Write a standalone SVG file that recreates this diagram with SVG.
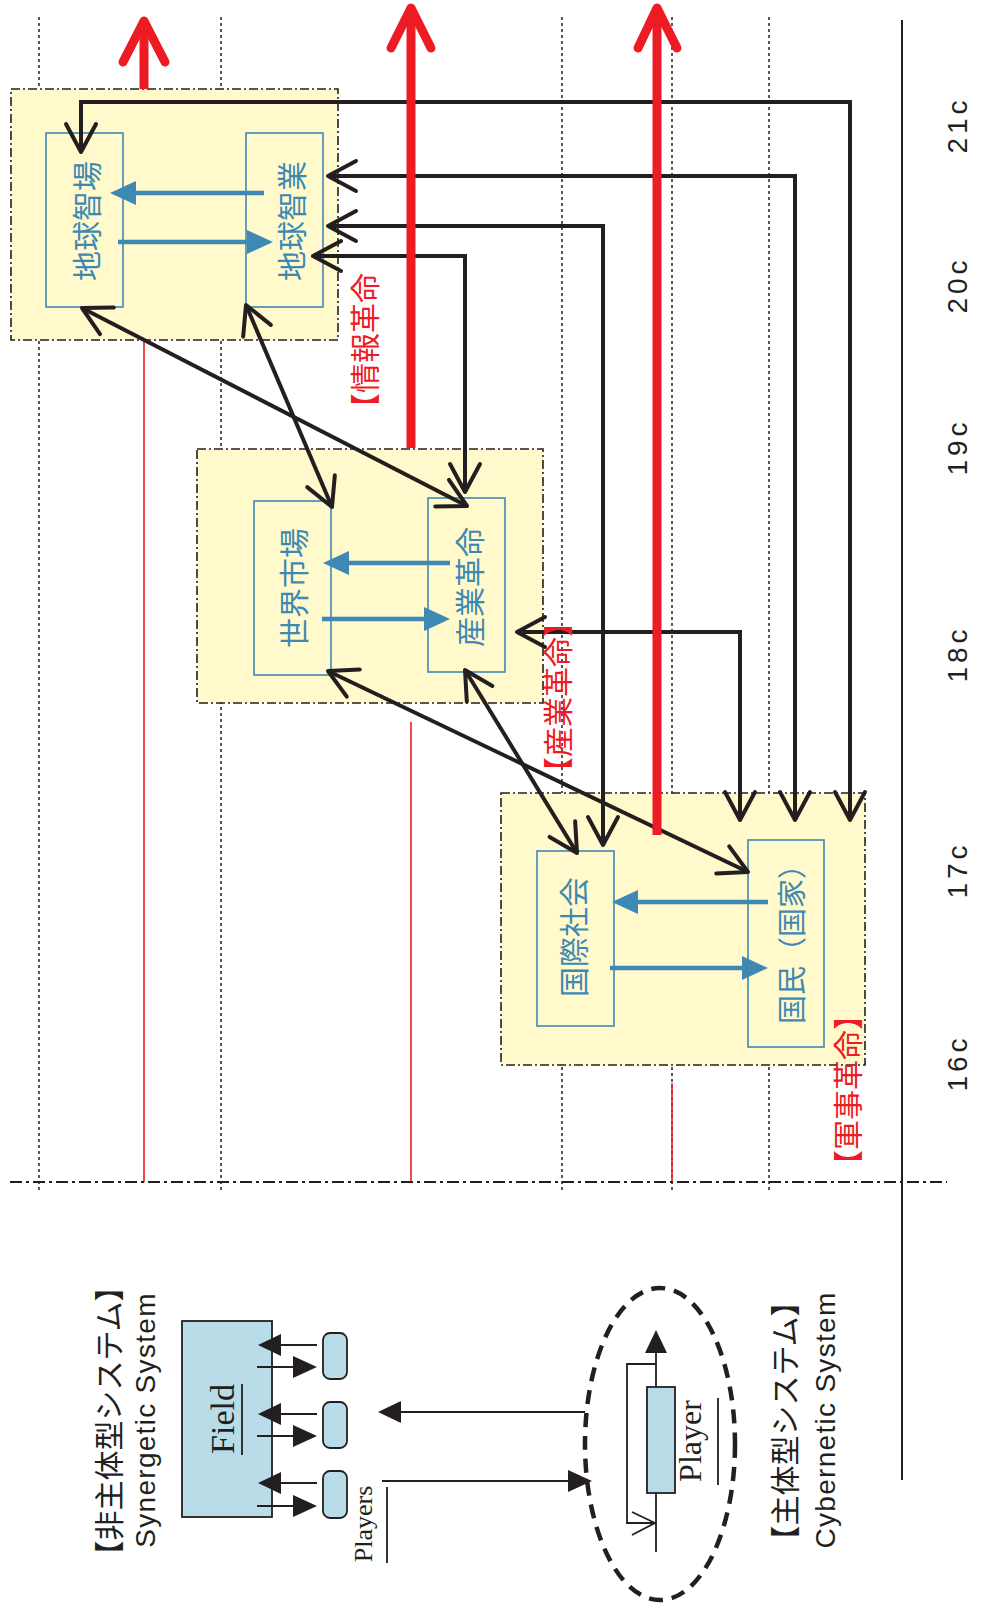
<svg xmlns="http://www.w3.org/2000/svg" width="987" height="1606" viewBox="0 0 987 1606">
<style>
.grid{stroke:#231f20;stroke-width:1.5;stroke-dasharray:3 3;fill:none}
.rt{stroke:#ed1c24;stroke-width:1.6;fill:none}
.yb{fill:#fff9cc;stroke:#231f20;stroke-width:1.6;stroke-dasharray:9 3 2 3}
.bb{fill:none;stroke:#3e89b4;stroke-width:1.6}
.bt{font-family:"Noto Sans CJK JP",sans-serif;font-size:30px;fill:#3e89b4}
.ba{stroke:#3e89b4;stroke-width:4.5;fill:none}
.bh{fill:#3e89b4}
.con{stroke:#231f20;stroke-width:4;fill:none}
.rs{stroke:#ed1c24;stroke-width:9;fill:none}
.rc{stroke:#ed1c24;stroke-width:9;fill:none;stroke-linecap:round;stroke-linejoin:round}
.rl{font-family:"Noto Sans CJK JP",sans-serif;font-size:30px;fill:#ed1c24}
.tl{font-family:"Liberation Sans",Arial,sans-serif;font-size:28px;fill:#231f20;letter-spacing:4px}
.thin{stroke:#231f20;stroke-width:1.8;fill:none}
.ah{fill:#231f20}
.lb{fill:#b8dde8;stroke:#231f20;stroke-width:1.8}
.jp{font-family:"Noto Sans CJK JP",sans-serif;font-size:30px;fill:#231f20}
.en{font-family:"Liberation Sans",Arial,sans-serif;font-size:28px;fill:#231f20;letter-spacing:1.3px}
.sf{font-family:"Liberation Serif","Times New Roman",serif;fill:#231f20}
</style>
<defs>
<marker id="ch" markerUnits="userSpaceOnUse" viewBox="-34 -20 40 40" markerWidth="40" markerHeight="40" refX="0" refY="0" orient="auto-start-reverse">
<path d="M-28,-15 L0,0 L-28,15" fill="none" stroke="#231f20" stroke-width="4" stroke-linecap="round" stroke-linejoin="round"/>
</marker>
</defs>

<g id="timeline">
<line class="grid" x1="39" y1="17" x2="39" y2="1193"/>
<line class="grid" x1="221" y1="17" x2="221" y2="1193"/>
<line class="grid" x1="562" y1="17" x2="562" y2="1193"/>
<line class="grid" x1="672" y1="17" x2="672" y2="1193"/>
<line class="grid" x1="769" y1="17" x2="769" y2="1193"/>
<line class="rt" x1="144" y1="324" x2="144" y2="1182"/>
<line class="rt" x1="411" y1="722" x2="411" y2="1182"/>
<line class="rt" x1="672" y1="1083" x2="672" y2="1182"/>
<line x1="10" y1="1182" x2="947" y2="1182" stroke="#231f20" stroke-width="2" stroke-dasharray="12 4 3 4"/>
<line x1="902" y1="20" x2="902" y2="1480" stroke="#231f20" stroke-width="2"/>
<g class="tl" text-anchor="middle" dominant-baseline="central">
<text transform="translate(957,125) rotate(-90)">21c</text>
<text transform="translate(957,285) rotate(-90)">20c</text>
<text transform="translate(957,447) rotate(-90)">19c</text>
<text transform="translate(957,654) rotate(-90)">18c</text>
<text transform="translate(957,870) rotate(-90)">17c</text>
<text transform="translate(957,1063) rotate(-90)">16c</text>
</g>
</g>

<g id="era-21c">
<rect class="yb" x="11" y="89" width="327" height="251"/>
<g id="node-chikyu-chijo">
<rect class="bb" x="46" y="133" width="77" height="174"/>
<text class="bt" text-anchor="middle" dominant-baseline="central" transform="translate(85,221) rotate(-90)">地球智場</text>
</g>
<g id="node-chikyu-chigyo">
<rect class="bb" x="246" y="133" width="77" height="174"/>
<text class="bt" text-anchor="middle" dominant-baseline="central" transform="translate(290,221) rotate(-90)">地球智業</text>
</g>
<line class="ba" x1="264" y1="193" x2="134" y2="193"/>
<polygon class="bh" points="110,193 136,181 136,205"/>
<line class="ba" x1="118" y1="242" x2="250" y2="242"/>
<polygon class="bh" points="273,242 247,230 247,254"/>
</g>

<g id="era-19c">
<rect class="yb" x="197" y="449" width="346" height="254"/>
<g id="node-sekai-shijo">
<rect class="bb" x="254" y="501" width="77" height="174"/>
<text class="bt" text-anchor="middle" dominant-baseline="central" transform="translate(292,588) rotate(-90)">世界市場</text>
</g>
<g id="node-sangyo-kakumei">
<rect class="bb" x="428" y="498" width="77" height="174"/>
<text class="bt" text-anchor="middle" dominant-baseline="central" transform="translate(468,587) rotate(-90)">産業革命</text>
</g>
<line class="ba" x1="450" y1="563" x2="347" y2="563"/>
<polygon class="bh" points="323,563 349,551 349,575"/>
<line class="ba" x1="322" y1="619" x2="426" y2="619"/>
<polygon class="bh" points="450,619 424,607 424,631"/>
</g>

<g id="era-17c">
<rect class="yb" x="501" y="793" width="364" height="272"/>
<g id="node-kokusai-shakai">
<rect class="bb" x="537" y="851" width="77" height="175"/>
<text class="bt" text-anchor="middle" dominant-baseline="central" transform="translate(572,937) rotate(-90)">国際社会</text>
</g>
<g id="node-kokumin">
<rect class="bb" x="748" y="840" width="76" height="207"/>
<text class="bt" style="font-size:29px" text-anchor="middle" dominant-baseline="central" transform="translate(790,937) rotate(-90)">国民（国家）</text>
</g>
<line class="ba" x1="768" y1="902" x2="636" y2="902"/>
<polygon class="bh" points="612,902 638,890 638,914"/>
<line class="ba" x1="610" y1="968" x2="744" y2="968"/>
<polygon class="bh" points="768,968 742,956 742,980"/>
</g>

<g id="connectors">
<path class="con" marker-start="url(#ch)" marker-end="url(#ch)" d="M81,152 V102 H850 V820"/>
<path class="con" marker-start="url(#ch)" marker-end="url(#ch)" d="M328,176 H795 V820"/>
<path class="con" marker-start="url(#ch)" marker-end="url(#ch)" d="M328,226 H603 V845"/>
<path class="con" marker-start="url(#ch)" marker-end="url(#ch)" d="M313,256 H465 V492"/>
<path class="con" marker-start="url(#ch)" marker-end="url(#ch)" d="M82,308 L467,506"/>
<path class="con" marker-start="url(#ch)" marker-end="url(#ch)" d="M246,305 L332,507"/>
<path class="con" marker-start="url(#ch)" marker-end="url(#ch)" d="M465,670 L577,853"/>
<path class="con" marker-start="url(#ch)" marker-end="url(#ch)" d="M328,671 L748,872"/>
<path class="con" marker-start="url(#ch)" marker-end="url(#ch)" d="M517,632 H740 V820"/>
</g>

<g id="revolutions">
<line class="rs" x1="144" y1="89" x2="144" y2="24"/>
<path class="rc" d="M123,62 L144,21 L165,62"/>
<line class="rs" x1="411" y1="448" x2="411" y2="12"/>
<path class="rc" d="M391,48 L411,8 L431,48"/>
<line class="rs" x1="657" y1="835" x2="657" y2="12"/>
<path class="rc" d="M638,48 L657,8 L677,48"/>
<text class="rl" dominant-baseline="central" transform="translate(363,423) rotate(-90)">【情報革命</text>
<text class="rl" text-anchor="middle" dominant-baseline="central" transform="translate(556,697) rotate(-90)">【産業革命】</text>
<text class="rl" text-anchor="middle" dominant-baseline="central" transform="translate(846,1090) rotate(-90)">【軍事革命】</text>
</g>

<g id="legend-synergetic">
<text class="jp" text-anchor="middle" dominant-baseline="central" transform="translate(107,1421) rotate(-90)">【非主体型システム】</text>
<text class="en" text-anchor="middle" dominant-baseline="central" transform="translate(145,1420) rotate(-90)">Synergetic System</text>
<g id="node-field">
<rect class="lb" x="182" y="1321" width="90" height="196"/>
<text class="sf" style="font-size:34px" text-anchor="middle" transform="translate(234,1419) rotate(-90)">Field</text>
<line class="thin" x1="242" y1="1384" x2="242" y2="1455"/>
</g>
<g id="node-players">
<rect class="lb" x="323" y="1333" width="24" height="46" rx="7"/>
<rect class="lb" x="323" y="1402" width="24" height="46" rx="7"/>
<rect class="lb" x="323" y="1471" width="24" height="47" rx="7"/>
<text class="sf" style="font-size:26px" text-anchor="middle" transform="translate(372,1524) rotate(-90)">Players</text>
<line class="thin" x1="387" y1="1487" x2="387" y2="1563"/>
</g>
<g id="field-player-links">
<line class="thin" x1="317" y1="1345" x2="270" y2="1345"/>
<polygon class="ah" points="258,1345 281,1334 281,1356"/>
<line class="thin" x1="257" y1="1367" x2="300" y2="1367"/>
<polygon class="ah" points="317,1367 293,1356 293,1378"/>
<line class="thin" x1="317" y1="1414" x2="270" y2="1414"/>
<polygon class="ah" points="258,1414 281,1403 281,1425"/>
<line class="thin" x1="257" y1="1436" x2="300" y2="1436"/>
<polygon class="ah" points="317,1436 293,1425 293,1447"/>
<line class="thin" x1="317" y1="1483" x2="270" y2="1483"/>
<polygon class="ah" points="258,1483 281,1472 281,1494"/>
<line class="thin" x1="257" y1="1506" x2="300" y2="1506"/>
<polygon class="ah" points="317,1506 293,1495 293,1517"/>
</g>
</g>

<g id="legend-links">
<line class="thin" x1="585" y1="1412" x2="392" y2="1412"/>
<polygon class="ah" points="378,1412 401,1401 401,1423"/>
<line class="thin" x1="382" y1="1481" x2="575" y2="1481"/>
<polygon class="ah" points="592,1481 568,1470 568,1492"/>
</g>

<g id="legend-cybernetic">
<g id="node-player">
<ellipse cx="660" cy="1444" rx="75" ry="156" fill="none" stroke="#231f20" stroke-width="4.5" stroke-dasharray="14 9"/>
<line class="thin" x1="656" y1="1552" x2="656" y2="1350"/>
<polygon class="ah" points="656,1330 645,1353 667,1353"/>
<path class="thin" d="M656,1364 H627 V1523 H655"/>
<path class="thin" d="M632,1512 L655,1523 L632,1535"/>
<rect class="lb" x="647" y="1387" width="28" height="106"/>
<text class="sf" style="font-size:32px" text-anchor="middle" transform="translate(701,1441) rotate(-90)">Player</text>
<line class="thin" x1="718" y1="1398" x2="718" y2="1485"/>
</g>
<text class="jp" text-anchor="middle" dominant-baseline="central" transform="translate(783,1421) rotate(-90)">【主体型システム】</text>
<text class="en" text-anchor="middle" dominant-baseline="central" transform="translate(825,1420) rotate(-90)">Cybernetic System</text>
</g>
</svg>
